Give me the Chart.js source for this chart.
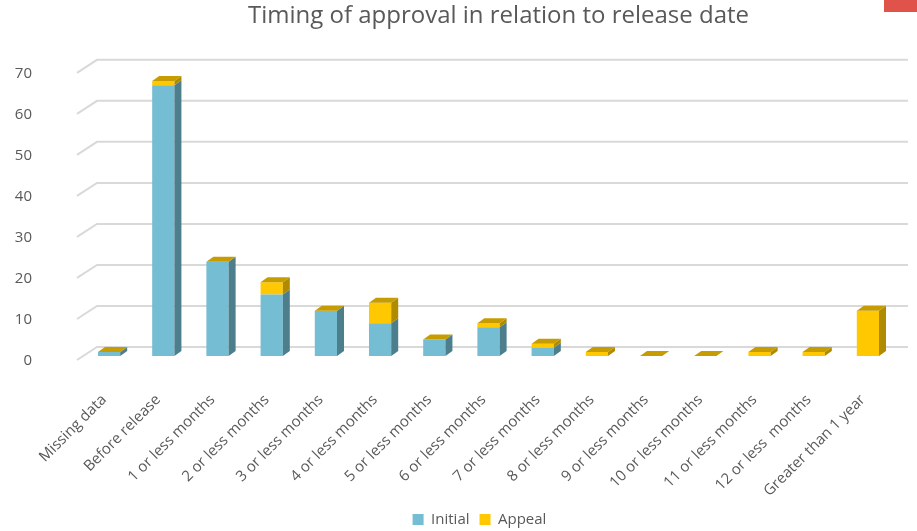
<!DOCTYPE html>
<html>
<head>
<meta charset="utf-8">
<script src="https://cdn.jsdelivr.net/npm/chart.js@4"></script>
<style>
  html, body { margin: 0; padding: 0; background: #fff; }
  #wrap { position: relative; width: 917px; height: 531px; }
  #corner { position: absolute; right: 0; top: 0; width: 33px; height: 12px; background: #e0534a; }
</style>
</head>
<body>
<div id="wrap">
  <canvas id="chart" width="917" height="531"></canvas>
  <div id="corner"></div>
</div>
<script>
// DATA
let categories = [
  "Missing data", "Before release", "1 or less months", "2 or less months",
  "3 or less months", "4 or less months", "5 or less months", "6 or less months",
  "7 or less months", "8 or less months", "9 or less months", "10 or less months",
  "11 or less months", "12 or less  months", "Greater than 1 year"
];
let initial = [1, 66, 23, 15, 11, 8, 4, 7, 2, 0, 0, 0, 0, 0, 0];
let appeal  = [0, 1, 0, 3, 0, 5, 0, 1, 1, 1, 0, 0, 1, 1, 11];
let yTicks = [0, 10, 20, 30, 40, 50, 60, 70];

// COLORS
let blue = "#74bdd3", blueSide = "#4c7e8b";
let gold = "#ffc800", goldSide = "#b08b00", goldTop = "#c79c00";
let textGray = "#595959";

// depth of the bars and of the back wall
let depthX = 7, depthY = 5;
let wallX = 15, wallY = 9;

// back wall gridlines + diagonals on the side wall, then 3D faces of the bars
let wallPlugin = {
  id: "wall",
  afterLayout(chart) {
    // title sits a bit right of the plot centre, legend a bit left
    chart.titleBlock.left += 20;
    chart.legend.right -= 18;
  },
  beforeDatasetsDraw(chart) {
    let ctx = chart.ctx;
    let area = chart.chartArea;
    let y = chart.scales.y;
    ctx.save();
    ctx.strokeStyle = "#d9d9d9";
    ctx.lineWidth = 2;
    yTicks.forEach(v => {
      let py = y.getPixelForValue(v);
      ctx.beginPath();
      ctx.moveTo(area.left - 5, py + 4);
      ctx.lineTo(area.left + wallX, py - wallY);
      ctx.lineTo(area.right + 13, py - wallY);
      ctx.stroke();
    });
    ctx.restore();
  },
  afterDatasetsDraw(chart) {
    let ctx = chart.ctx;
    let metaA = chart.getDatasetMeta(0);
    let metaB = chart.getDatasetMeta(1);
    ctx.save();
    categories.forEach((c, i) => {
      let segs = [[metaA.data[i], blueSide], [metaB.data[i], goldSide]];
      segs.forEach(([bar, side]) => {
        let p = bar.getProps(["x", "y", "base", "width"], true);
        if (Math.abs(p.base - p.y) < 0.5) return;
        let r = p.x + p.width / 2;
        ctx.fillStyle = side;
        ctx.beginPath();
        ctx.moveTo(r, p.y);
        ctx.lineTo(r + depthX, p.y - depthY);
        ctx.lineTo(r + depthX, p.base - depthY);
        ctx.lineTo(r, p.base);
        ctx.closePath();
        ctx.fill();
      });
      // top face of the stack
      let top = metaB.data[i].getProps(["x", "y", "width"], true);
      let l = top.x - top.width / 2, r = top.x + top.width / 2;
      ctx.fillStyle = goldTop;
      ctx.beginPath();
      ctx.moveTo(l, top.y);
      ctx.lineTo(l + depthX, top.y - depthY);
      ctx.lineTo(r + depthX, top.y - depthY);
      ctx.lineTo(r, top.y);
      ctx.closePath();
      ctx.fill();
    });
    ctx.restore();
  }
};

Chart.defaults.font.family = "'Open Sans', Lato, sans-serif";
Chart.defaults.color = textGray;

new Chart(document.getElementById("chart"), {
  type: "bar",
  data: {
    labels: categories,
    datasets: [
      { label: "Initial", data: initial, backgroundColor: blue },
      { label: "Appeal", data: appeal, backgroundColor: gold }
    ]
  },
  options: {
    responsive: false,
    animation: false,
    layout: { padding: { left: 0, right: 22, top: 0, bottom: -6 } },
    datasets: { bar: { categoryPercentage: 1, barPercentage: 0.41 } },
    scales: {
      x: {
        stacked: true,
        grid: { display: false },
        border: { display: false },
        ticks: {
          minRotation: 45, maxRotation: 45, autoSkip: false,
          padding: 27, labelOffset: -5,
          font: { size: 15 }, color: textGray
        },
        afterFit(scale) { scale.height = 146; }
      },
      y: {
        stacked: true,
        min: 0, max: 70,
        afterBuildTicks(scale) { scale.ticks = yTicks.map(v => ({ value: v })); },
        grid: { display: false },
        border: { display: false },
        ticks: { padding: 42, labelOffset: 5, font: { size: 15 }, color: textGray },
        afterFit(scale) { scale.width = 82; }
      }
    },
    plugins: {
      title: {
        display: true,
        fullSize: false,
        text: "Timing of approval in relation to release date",
        color: textGray,
        font: { size: 24, weight: "normal" },
        padding: { top: 2, bottom: 38 }
      },
      legend: {
        position: "bottom",
        fullSize: false,
        labels: { boxWidth: 11, boxHeight: 11, padding: 10, font: { size: 15 }, color: textGray }
      },
      tooltip: { enabled: false }
    }
  },
  plugins: [wallPlugin]
});
</script>
</body>
</html>
